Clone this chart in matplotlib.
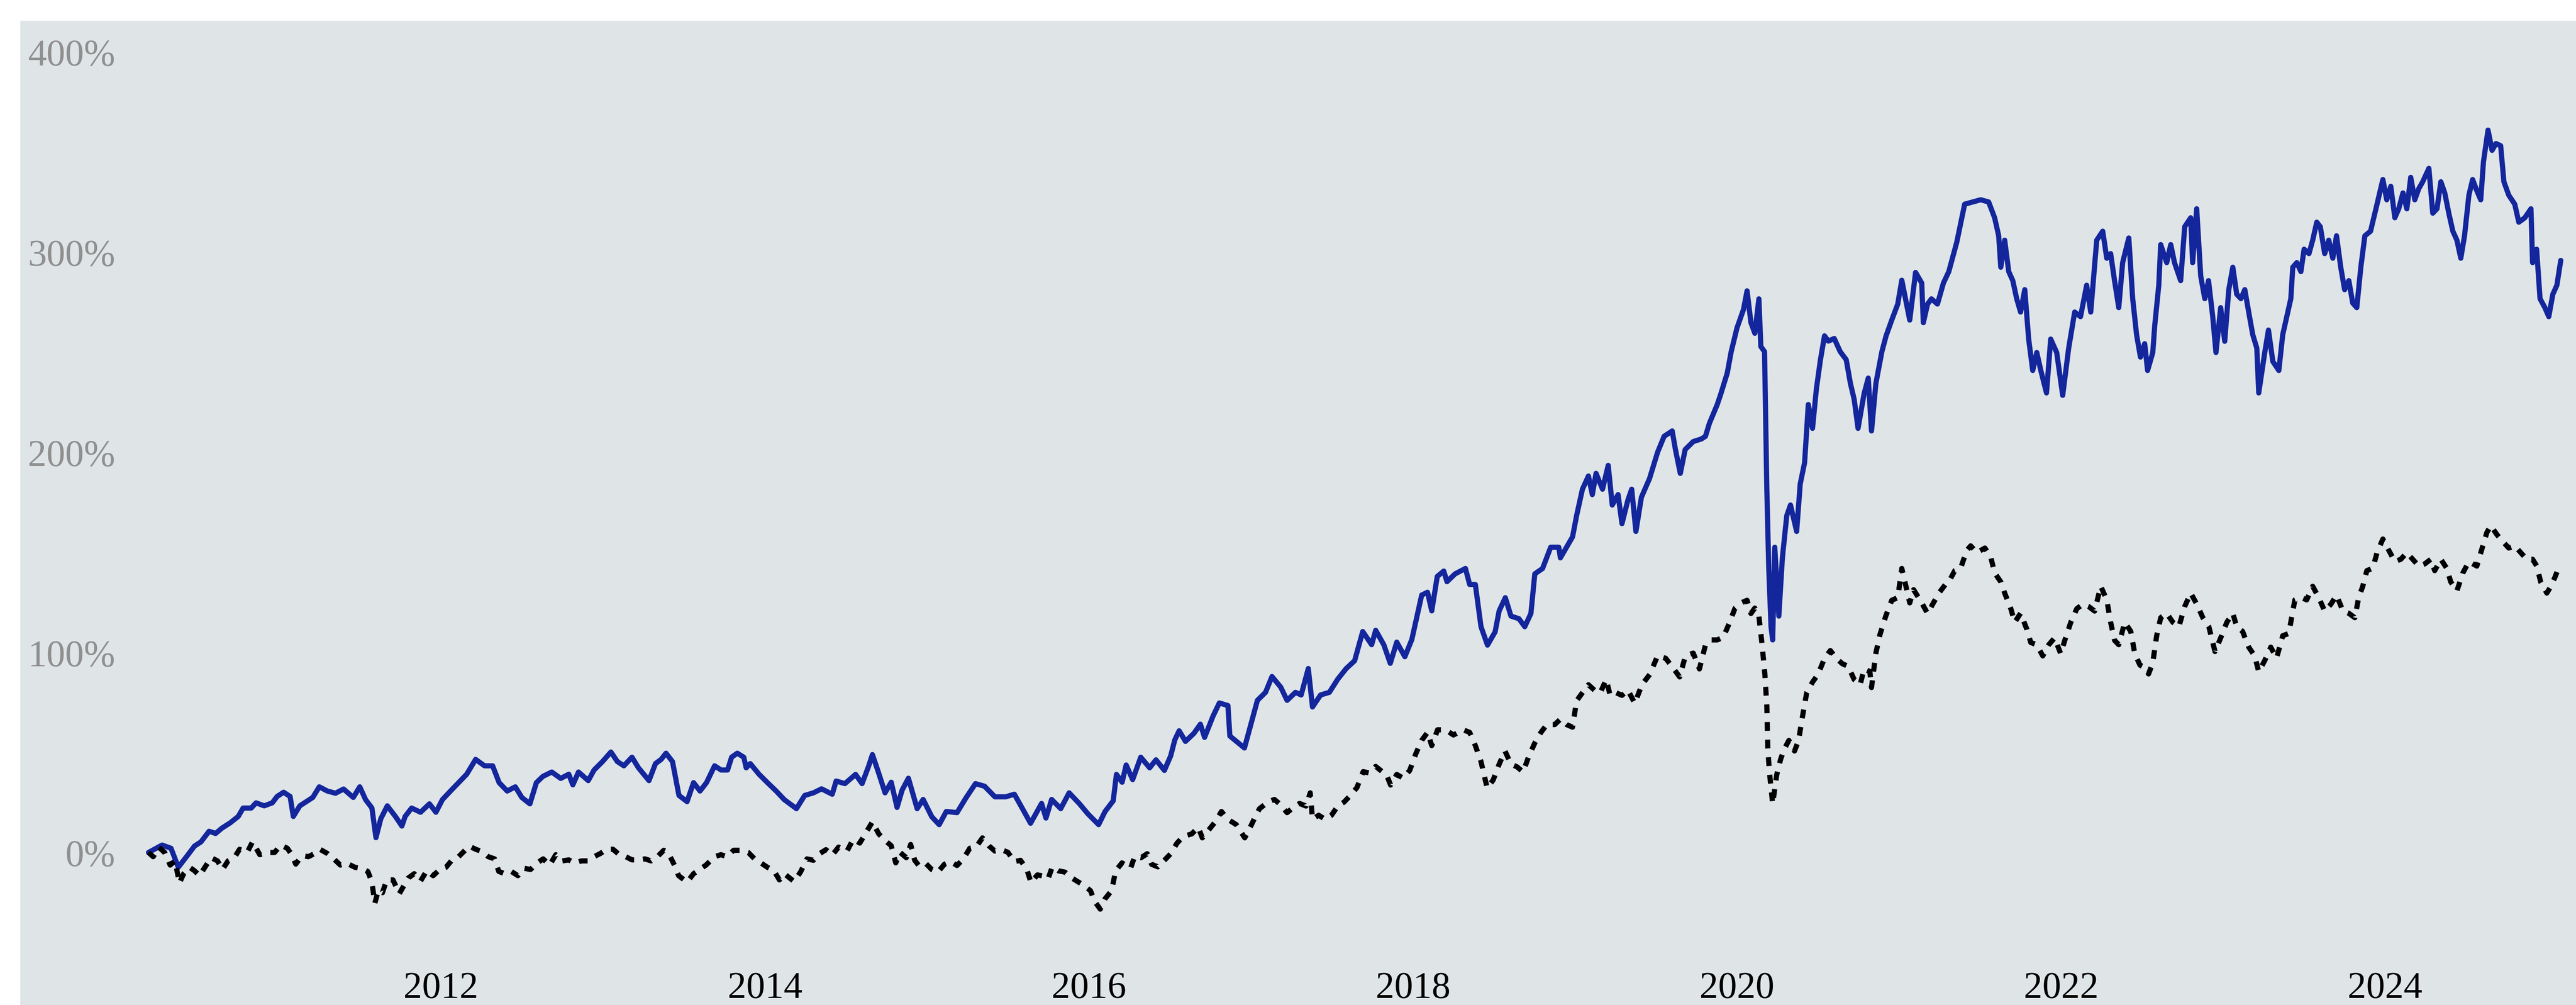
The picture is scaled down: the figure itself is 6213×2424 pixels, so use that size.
"""
Cumulative return chart: blue solid series vs. black dotted benchmark.
Values read off the reference picture (decimal years, percent).
"""

import matplotlib
matplotlib.use("Agg")
import matplotlib.pyplot as plt

# ── Data ──────────────────────────────────────────────────────────────────────
blue_t = [
    2010.196, 2010.28, 2010.335, 2010.38, 2010.44, 2010.48, 2010.52, 2010.57, 2010.61, 2010.65,
    2010.70, 2010.75, 2010.78, 2010.83, 2010.86, 2010.91, 2010.96, 2010.99, 2011.03, 2011.07,
    2011.09, 2011.13, 2011.17, 2011.21, 2011.25, 2011.30, 2011.35, 2011.40, 2011.46, 2011.50,
    2011.536, 2011.575, 2011.60, 2011.63, 2011.67, 2011.72, 2011.76, 2011.78, 2011.82, 2011.875,
    2011.93, 2011.97, 2012.01, 2012.06, 2012.11, 2012.16, 2012.215, 2012.27, 2012.32, 2012.36,
    2012.41, 2012.46, 2012.50, 2012.55, 2012.59, 2012.63, 2012.685, 2012.74, 2012.79, 2012.815,
    2012.85, 2012.91, 2012.946, 2012.998, 2013.05, 2013.09, 2013.13, 2013.18, 2013.22, 2013.285,
    2013.325, 2013.36, 2013.39, 2013.43, 2013.47, 2013.52, 2013.56, 2013.60, 2013.64, 2013.69,
    2013.73, 2013.77, 2013.795, 2013.83, 2013.87, 2013.885, 2013.91, 2013.964, 2014.016, 2014.07,
    2014.12, 2014.195, 2014.246, 2014.30, 2014.35, 2014.416, 2014.44, 2014.494, 2014.56, 2014.60,
    2014.64, 2014.664, 2014.70, 2014.742, 2014.78, 2014.816, 2014.847, 2014.886, 2014.94, 2014.977,
    2015.03, 2015.076, 2015.12, 2015.186, 2015.24, 2015.30, 2015.356, 2015.42, 2015.486, 2015.54,
    2015.59, 2015.64, 2015.708, 2015.735, 2015.77, 2015.826, 2015.878, 2015.94, 2015.995, 2016.06,
    2016.10, 2016.15, 2016.17, 2016.205, 2016.23, 2016.27, 2016.32, 2016.375, 2016.414, 2016.466,
    2016.505, 2016.53, 2016.557, 2016.596, 2016.648, 2016.688, 2016.714, 2016.766, 2016.805, 2016.858,
    2016.87, 2016.96, 2017.0, 2017.04, 2017.09, 2017.13, 2017.184, 2017.223, 2017.275, 2017.31,
    2017.354, 2017.38, 2017.43, 2017.484, 2017.536, 2017.588, 2017.64, 2017.69, 2017.745, 2017.77,
    2017.82, 2017.86, 2017.90, 2017.95, 2017.993, 2018.054, 2018.09, 2018.116, 2018.15, 2018.19,
    2018.21, 2018.26, 2018.324, 2018.35, 2018.385, 2018.42, 2018.46, 2018.507, 2018.532, 2018.57,
    2018.605, 2018.654, 2018.69, 2018.728, 2018.752, 2018.80, 2018.85, 2018.90, 2018.91, 2018.948,
    2018.985, 2019.01, 2019.046, 2019.083, 2019.107, 2019.13, 2019.17, 2019.205, 2019.23, 2019.266,
    2019.29, 2019.327, 2019.35, 2019.376, 2019.41, 2019.46, 2019.51, 2019.55, 2019.60, 2019.62,
    2019.65, 2019.68, 2019.73, 2019.78, 2019.805, 2019.83, 2019.878, 2019.90, 2019.94, 2019.964,
    2020.0, 2020.04, 2020.062, 2020.086, 2020.11, 2020.135, 2020.147, 2020.17, 2020.184, 2020.196,
    2020.21, 2020.22, 2020.233, 2020.258, 2020.28, 2020.307, 2020.33, 2020.368, 2020.39, 2020.417,
    2020.44, 2020.466, 2020.49, 2020.515, 2020.54, 2020.564, 2020.60, 2020.637, 2020.674, 2020.70,
    2020.723, 2020.747, 2020.784, 2020.81, 2020.83, 2020.857, 2020.894, 2020.92, 2020.955, 2020.992,
    2021.017, 2021.04, 2021.066, 2021.102, 2021.14, 2021.15, 2021.176, 2021.20, 2021.237, 2021.274,
    2021.307, 2021.356, 2021.405, 2021.455, 2021.504, 2021.553, 2021.59, 2021.615, 2021.628, 2021.652,
    2021.677, 2021.702, 2021.726, 2021.75, 2021.776, 2021.80, 2021.825, 2021.85, 2021.875, 2021.91,
    2021.936, 2021.973, 2022.01, 2022.047, 2022.084, 2022.12, 2022.158, 2022.183, 2022.22, 2022.257,
    2022.282, 2022.306, 2022.33, 2022.356, 2022.38, 2022.418, 2022.442, 2022.466, 2022.49, 2022.516,
    2022.534, 2022.566, 2022.578, 2022.603, 2022.615, 2022.652, 2022.677, 2022.70, 2022.738, 2022.763,
    2022.80, 2022.812, 2022.837, 2022.862, 2022.887, 2022.91, 2022.936, 2022.956, 2022.985, 2023.01,
    2023.035, 2023.06, 2023.084, 2023.11, 2023.134, 2023.158, 2023.183, 2023.208, 2023.22, 2023.257,
    2023.28, 2023.307, 2023.344, 2023.368, 2023.393, 2023.418, 2023.43, 2023.455, 2023.48, 2023.50,
    2023.53, 2023.553, 2023.578, 2023.60, 2023.627, 2023.652, 2023.677, 2023.70, 2023.726, 2023.75,
    2023.776, 2023.80, 2023.825, 2023.85, 2023.875, 2023.91, 2023.95, 2023.986, 2024.01, 2024.035,
    2024.06, 2024.084, 2024.11, 2024.134, 2024.158, 2024.183, 2024.208, 2024.232, 2024.27, 2024.294,
    2024.32, 2024.344, 2024.368, 2024.393, 2024.418, 2024.443, 2024.467, 2024.49, 2024.517, 2024.54,
    2024.566, 2024.59, 2024.607, 2024.635, 2024.66, 2024.684, 2024.713, 2024.733, 2024.763, 2024.80,
    2024.825, 2024.862, 2024.90, 2024.91, 2024.935, 2024.956, 2024.986, 2025.01, 2025.035, 2025.06,
    2025.084,
]
blue_v = [
    0.4, 4.1, 2.5, -7.0, -0.7, 3.6, 5.7, 11.0, 9.9, 12.6,
    15.2, 18.4, 22.6, 22.6, 25.2, 23.7, 25.2, 28.4, 30.5, 28.4,
    18.4, 23.7, 25.8, 27.9, 33.2, 31.1, 30.0, 32.1, 27.9, 33.2,
    26.8, 22.6, 7.8, 17.3, 23.7, 18.4, 13.6, 18.4, 22.6, 20.5,
    24.7, 20.5, 26.8, 31.1, 35.3, 39.5, 46.9, 43.7, 43.7, 35.3,
    31.1, 33.2, 27.9, 24.7, 35.3, 38.4, 40.6, 37.4, 39.5, 34.2,
    40.6, 36.3, 41.6, 45.8, 50.6, 45.8, 43.7, 48.0, 42.7, 36.3,
    44.8, 46.9, 50.0, 45.8, 28.9, 25.8, 35.3, 31.1, 35.3, 43.7,
    41.6, 41.6, 48.0, 50.0, 48.0, 42.7, 44.8, 39.5, 35.3, 31.1,
    26.8, 22.3, 28.9, 30.2, 32.2, 29.5, 36.1, 34.8, 39.4, 34.8,
    43.4, 49.3, 40.7, 30.2, 35.5, 22.9, 31.5, 37.5, 22.3, 26.9,
    18.3, 14.3, 20.9, 20.3, 27.5, 34.8, 33.5, 28.2, 28.2, 29.5,
    22.3, 15.0, 24.9, 17.6, 26.9, 22.3, 30.2, 24.9, 19.6, 14.3,
    20.9, 26.2, 39.4, 35.5, 44.1, 36.8, 48.0, 42.7, 46.7, 41.4,
    48.7, 56.6, 61.2, 55.9, 59.9, 64.5, 57.9, 68.5, 75.1, 73.8,
    58.6, 52.6, 64.5, 76.4, 80.4, 88.3, 83.0, 76.4, 80.4, 79.1,
    92.3, 73.1, 79.1, 80.4, 87.0, 92.3, 96.2, 110.8, 104.2, 111.4,
    104.2, 94.9, 105.5, 98.2, 106.8, 129.0, 130.4, 121.1, 138.3, 141.0,
    135.7, 139.6, 142.3, 134.3, 134.3, 113.2, 104.0, 110.6, 121.1, 127.7,
    118.5, 117.2, 113.2, 119.8, 139.6, 142.3, 152.9, 152.9, 147.6, 152.9,
    158.1, 168.7, 181.9, 188.5, 179.2, 189.8, 181.9, 193.8, 174.0, 179.2,
    164.7, 176.6, 181.9, 160.8, 177.9, 187.2, 200.4, 208.3, 211.0, 201.7,
    189.8, 201.7, 205.7, 207.0, 208.3, 214.9, 224.2, 229.5, 240.0, 250.6,
    262.5, 271.7, 281.0, 265.1, 259.8, 277.0, 253.2, 250.6, 181.9, 142.3,
    113.2, 106.6, 152.9, 118.5, 147.6, 168.7, 174.0, 160.8, 184.5, 195.1,
    224.2, 212.3, 232.1, 246.6, 258.5, 255.9, 257.2, 250.6, 246.6, 234.7,
    226.8, 212.3, 229.5, 237.4, 211.0, 234.7, 250.6, 258.5, 266.4, 274.4,
    286.3, 277.0, 266.4, 290.2, 284.9, 265.1, 274.4, 277.0, 274.4, 284.9,
    290.6, 305.2, 324.3, 325.4, 326.5, 325.4, 317.5, 308.5, 292.8, 306.3,
    290.6, 286.1, 277.1, 270.4, 281.6, 256.9, 241.2, 250.2, 241.2, 230.0,
    256.9, 250.2, 228.8, 252.4, 270.4, 268.1, 283.8, 270.4, 306.3, 310.8,
    297.3, 299.6, 286.1, 272.6, 295.1, 307.4, 277.1, 259.1, 247.9, 254.6,
    241.2, 250.2, 263.6, 283.8, 304.1, 295.1, 304.1, 295.1, 286.1, 313.0,
    317.5, 295.1, 322.0, 288.3, 277.1, 286.1, 268.1, 250.2, 272.6, 255.8,
    281.6, 292.8, 279.3, 277.1, 281.6, 270.4, 259.1, 252.4, 230.0, 250.2,
    261.4, 245.7, 241.2, 259.1, 268.1, 277.1, 292.8, 295.1, 290.6, 301.8,
    299.6, 306.3, 315.3, 313.0, 299.6, 306.3, 297.3, 308.5, 292.8, 281.6,
    286.1, 274.9, 272.6, 292.8, 308.5, 310.8, 324.3, 336.6, 326.5, 333.2,
    317.5, 322.0, 329.9, 322.0, 337.7, 326.5, 332.1, 335.5, 342.2, 319.8,
    322.0, 335.5, 329.9, 319.8, 310.8, 306.3, 297.3, 308.5, 328.8, 336.6,
    331.0, 326.5, 345.6, 361.3, 351.2, 354.6, 353.5, 335.5, 328.8, 324.3,
    315.3, 317.5, 322.0, 295.1, 301.8, 277.1, 272.6, 268.1, 279.3, 283.8,
    296.2,
]

black_t = [
    2010.196, 2010.225, 2010.26, 2010.296, 2010.33, 2010.36, 2010.387, 2010.413, 2010.45, 2010.478,
    2010.512, 2010.544, 2010.583, 2010.622, 2010.653, 2010.687, 2010.726, 2010.758, 2010.805, 2010.838,
    2010.883, 2010.935, 2010.974, 2011.013, 2011.053, 2011.08, 2011.105, 2011.144, 2011.183, 2011.222,
    2011.254, 2011.30, 2011.34, 2011.38, 2011.418, 2011.47, 2011.51, 2011.55, 2011.575, 2011.593,
    2011.614, 2011.64, 2011.666, 2011.705, 2011.744, 2011.77, 2011.80, 2011.836, 2011.875, 2011.914,
    2011.953, 2011.993, 2012.032, 2012.07, 2012.11, 2012.15, 2012.176, 2012.215, 2012.254, 2012.293,
    2012.332, 2012.358, 2012.397, 2012.436, 2012.476, 2012.515, 2012.554, 2012.593, 2012.632, 2012.672,
    2012.71, 2012.75, 2012.79, 2012.828, 2012.868, 2012.907, 2012.946, 2012.985, 2013.024, 2013.063,
    2013.102, 2013.142, 2013.18, 2013.22, 2013.26, 2013.298, 2013.337, 2013.376, 2013.403, 2013.442,
    2013.468, 2013.52, 2013.56, 2013.598, 2013.637, 2013.69, 2013.729, 2013.768, 2013.807, 2013.86,
    2013.898, 2013.937, 2013.977, 2014.016, 2014.055, 2014.09, 2014.12, 2014.18, 2014.22, 2014.26,
    2014.30, 2014.338, 2014.377, 2014.416, 2014.455, 2014.507, 2014.546, 2014.586, 2014.625, 2014.664,
    2014.703, 2014.742, 2014.78, 2014.808, 2014.834, 2014.873, 2014.90, 2014.925, 2014.95, 2014.99,
    2015.03, 2015.068, 2015.108, 2015.147, 2015.186, 2015.225, 2015.265, 2015.304, 2015.343, 2015.382,
    2015.42, 2015.46, 2015.50, 2015.54, 2015.578, 2015.617, 2015.643, 2015.682, 2015.72, 2015.748,
    2015.774, 2015.813, 2015.852, 2015.89, 2015.93, 2015.97, 2016.01, 2016.035, 2016.07, 2016.10,
    2016.14, 2016.165, 2016.204, 2016.257, 2016.283, 2016.322, 2016.36, 2016.387, 2016.426, 2016.466,
    2016.505, 2016.544, 2016.583, 2016.635, 2016.675, 2016.70, 2016.74, 2016.78, 2016.818, 2016.857,
    2016.91, 2016.962, 2017.0, 2017.027, 2017.053, 2017.106, 2017.145, 2017.184, 2017.223, 2017.262,
    2017.30, 2017.34, 2017.366, 2017.38, 2017.418, 2017.458, 2017.497, 2017.536, 2017.575, 2017.614,
    2017.654, 2017.693, 2017.732, 2017.77, 2017.81, 2017.836, 2017.862, 2017.90, 2017.94, 2017.98,
    2018.018, 2018.054, 2018.09, 2018.116, 2018.152, 2018.20, 2018.25, 2018.31, 2018.35, 2018.385,
    2018.42, 2018.458, 2018.495, 2018.532, 2018.568, 2018.605, 2018.642, 2018.68, 2018.715, 2018.752,
    2018.79, 2018.826, 2018.875, 2018.91, 2018.948, 2018.985, 2019.01, 2019.046, 2019.083, 2019.12,
    2019.156, 2019.193, 2019.217, 2019.254, 2019.29, 2019.327, 2019.369, 2019.413, 2019.462, 2019.51,
    2019.56, 2019.61, 2019.646, 2019.682, 2019.73, 2019.768, 2019.805, 2019.84, 2019.878, 2019.915,
    2019.95, 2019.988, 2020.025, 2020.062, 2020.086, 2020.11, 2020.135, 2020.155, 2020.172, 2020.184,
    2020.19, 2020.20, 2020.22, 2020.245, 2020.27, 2020.294, 2020.32, 2020.355, 2020.38, 2020.404,
    2020.43, 2020.466, 2020.50, 2020.54, 2020.576, 2020.613, 2020.65, 2020.686, 2020.723, 2020.76,
    2020.784, 2020.82, 2020.83, 2020.857, 2020.882, 2020.918, 2020.955, 2020.992, 2021.017, 2021.04,
    2021.066, 2021.09, 2021.14, 2021.176, 2021.212, 2021.25, 2021.286, 2021.307, 2021.344, 2021.38,
    2021.418, 2021.442, 2021.48, 2021.53, 2021.566, 2021.59, 2021.628, 2021.652, 2021.69, 2021.714,
    2021.75, 2021.788, 2021.813, 2021.85, 2021.887, 2021.924, 2021.96, 2021.998, 2022.023, 2022.06,
    2022.097, 2022.134, 2022.17, 2022.207, 2022.245, 2022.282, 2022.306, 2022.33, 2022.356, 2022.393,
    2022.43, 2022.455, 2022.487, 2022.516, 2022.54, 2022.566, 2022.59, 2022.615, 2022.652, 2022.69,
    2022.727, 2022.763, 2022.80, 2022.838, 2022.875, 2022.912, 2022.95, 2022.985, 2023.023, 2023.06,
    2023.084, 2023.12, 2023.158, 2023.195, 2023.22, 2023.257, 2023.294, 2023.33, 2023.368, 2023.405,
    2023.443, 2023.48, 2023.516, 2023.553, 2023.59, 2023.627, 2023.665, 2023.70, 2023.74, 2023.776,
    2023.813, 2023.837, 2023.862, 2023.887, 2023.924, 2023.95, 2023.986, 2024.023, 2024.06, 2024.097,
    2024.134, 2024.17, 2024.208, 2024.245, 2024.282, 2024.306, 2024.344, 2024.38, 2024.405, 2024.443,
    2024.48, 2024.517, 2024.566, 2024.603, 2024.628, 2024.652, 2024.69, 2024.726, 2024.763, 2024.80,
    2024.837, 2024.874, 2024.91, 2024.936, 2024.96, 2024.998, 2025.023, 2025.048, 2025.08,
]
black_v = [
    0.4, -1.7, 3.0, 0.4, -5.9, -3.8, -14.9, -10.2, -7.0, -8.6,
    -11.2, -7.0, -2.2, -3.8, -8.1, -3.8, -2.2, 2.0, 0.4, 5.7,
    -0.7, 0.4, 0.4, 4.1, 2.5, -0.7, -5.4, -1.2, -1.7, -0.1,
    2.0, -0.1, -2.8, -5.9, -4.9, -7.0, -7.5, -9.1, -14.4, -25.0,
    -18.6, -19.7, -13.3, -13.3, -20.2, -16.5, -12.3, -10.2, -13.9, -8.6,
    -11.2, -8.1, -7.0, -3.3, -1.7, 1.5, 3.6, 2.0, 0.9, -1.7,
    -2.8, -9.1, -10.2, -9.1, -11.2, -7.5, -8.1, -4.9, -2.8, -5.9,
    -0.7, -3.8, -3.3, -4.9, -3.8, -3.8, -1.7, -0.1, 2.0, 2.0,
    -0.7, -1.7, -3.3, -3.3, -2.8, -3.8, -1.7, 1.5, 0.4, -5.9,
    -11.2, -14.4, -10.2, -8.1, -5.9, -1.7, -0.7, -1.7, 1.5, 1.5,
    0.4, -2.8, -4.9, -7.0, -8.6, -13.3, -10.2, -14.1, -9.4, -2.8,
    -3.5, -0.2, 1.8, -0.9, 3.1, 1.1, 7.1, 5.1, 10.4, 15.7,
    9.7, 6.4, 3.8, -4.8, 0.5, -2.2, 4.4, -3.5, -6.1, -4.8,
    -8.1, -9.4, -5.5, -4.2, -6.1, -2.8, 2.5, 3.1, 7.7, 3.8,
    1.1, 1.8, 0.5, -4.2, -3.5, -8.1, -14.7, -10.8, -11.4, -12.8,
    -6.8, -8.8, -9.4, -12.1, -14.1, -16.1, -18.7, -24.0, -27.9, -22.7,
    -18.7, -8.8, -4.8, -7.5, -1.5, -2.2, -0.2, -5.5, -6.8, -3.5,
    -0.2, 5.1, 8.4, 9.7, 13.0, 7.7, 11.7, 15.7, 20.9, 17.0,
    14.3, 7.7, 13.7, 18.3, 22.3, 25.6, 26.9, 24.2, 20.3, 22.9,
    24.9, 23.6, 30.2, 17.0, 19.0, 17.0, 19.0, 23.6, 25.6, 28.9,
    32.8, 40.8, 40.1, 43.4, 40.8, 39.4, 34.1, 39.4, 37.5, 41.4,
    49.8, 56.4, 60.4, 53.8, 61.7, 61.7, 59.1, 61.7, 60.4, 53.8,
    45.8, 32.6, 36.6, 44.5, 51.1, 44.5, 43.2, 40.6, 48.5, 55.1,
    60.4, 64.3, 64.3, 67.0, 64.3, 63.0, 76.2, 80.2, 84.2, 81.5,
    80.2, 86.8, 78.9, 80.2, 78.9, 81.5, 74.9, 84.2, 89.4, 98.7,
    97.4, 92.1, 88.1, 98.7, 100.0, 92.1, 104.0, 106.6, 106.6, 107.9,
    114.5, 122.5, 125.1, 126.4, 119.8, 122.5, 118.5, 104.0, 89.4, 73.6,
    52.4, 40.6, 24.7, 39.2, 47.2, 52.4, 56.4, 51.1, 56.4, 68.3,
    80.2, 85.5, 89.4, 97.4, 101.3, 97.4, 94.7, 93.4, 86.8, 84.2,
    92.1, 90.8, 82.8, 100.0, 109.2, 118.5, 126.4, 127.7, 142.3, 134.3,
    125.1, 131.7, 125.1, 119.8, 125.1, 130.4, 134.3, 135.6, 141.2, 142.4,
    151.3, 153.6, 150.2, 152.5, 148.0, 140.1, 135.6, 130.0, 122.2, 115.4,
    119.9, 112.1, 105.3, 104.2, 98.6, 104.2, 107.6, 99.7, 106.4, 115.4,
    122.2, 124.4, 123.3, 121.0, 133.4, 126.6, 115.4, 106.4, 104.2, 115.4,
    110.9, 99.7, 94.0, 92.9, 89.6, 95.2, 108.7, 117.7, 119.9, 115.4,
    113.2, 123.3, 130.0, 124.4, 117.7, 113.2, 100.8, 107.6, 115.4, 119.9,
    113.2, 110.9, 103.0, 98.6, 90.7, 96.3, 103.0, 97.5, 108.7, 109.8,
    126.6, 127.8, 126.6, 133.4, 127.8, 121.0, 124.4, 128.9, 121.0, 119.9,
    117.7, 127.8, 133.4, 141.2, 142.4, 150.2, 157.0, 151.3, 145.7, 146.9,
    150.2, 146.9, 143.5, 144.6, 146.9, 141.2, 146.9, 142.4, 135.6, 131.1,
    140.1, 145.7, 143.5, 153.6, 160.3, 163.7, 159.2, 155.8, 152.5, 153.6,
    150.2, 146.9, 146.9, 143.5, 135.6, 130.0, 133.4, 137.9, 144.6,
]

year_ticks = [2012, 2014, 2016, 2018, 2020, 2022, 2024]
pct_ticks = [0, 100, 200, 300, 400]

# ── Figure ────────────────────────────────────────────────────────────────────
plt.rcParams["font.family"] = ["Liberation Serif", "DejaVu Serif"]

W, H, DPI = 6213, 2424, 100
fig = plt.figure(figsize=(W / DPI, H / DPI), dpi=DPI, facecolor="white")
left_px, top_px = 49, 50
ax = fig.add_axes([left_px / W, 0, 1 - left_px / W, (H - top_px) / H])
ax.set_facecolor("#dfe4e7")

ax.plot(blue_t, blue_v, color="#14269c", lw=9,
        solid_capstyle="round", solid_joinstyle="round")
ax.plot(black_t, black_v, color="black", lw=9, linestyle=(0, (1.7, 1.7)))

ax.set_xlim(2009.405, 2025.178)
ax.set_ylim(-75.8, 415.95)

for s in ax.spines.values():
    s.set_visible(False)

ax.set_xticks(year_ticks)
ax.set_xticklabels([str(y) for y in year_ticks])
ax.set_yticks(pct_ticks)
ax.set_yticklabels([f"{p}%" for p in pct_ticks])

ax.tick_params(axis="both", length=0, labelsize=65)
ax.tick_params(axis="y", pad=-164.9, labelcolor="#8f8f8f")
ax.tick_params(axis="x", pad=-58.3, labelcolor="black")

fig.savefig("out.png", dpi=DPI, facecolor="white")
